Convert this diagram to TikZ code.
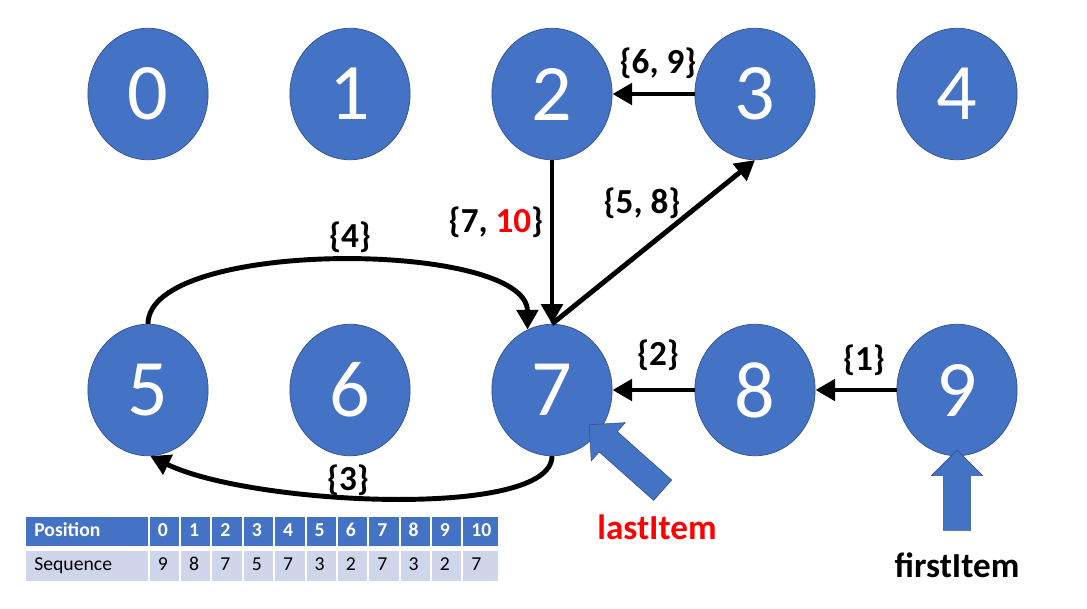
\documentclass[tikz,border=0pt]{standalone}
\usepackage{fontspec}
\setmainfont{Carlito}
\usetikzlibrary{shapes.geometric,shapes.arrows,arrows.meta}
\definecolor{nodeblue}{HTML}{4472C4}
\definecolor{nodeedge}{HTML}{2F528F}
\definecolor{rowblue}{HTML}{CFD5EA}
\tikzset{
    vertex/.style={ellipse, fill=nodeblue, draw=nodeedge, line width=0.5pt,
        minimum width=85.5pt, minimum height=93.5pt, inner sep=0pt,
        text=white, font=\fontsize{57}{60}\selectfont},
    link/.style={line width=3.5pt, -{Triangle[length=14pt,width=15pt]}},
    setlbl/.style={font=\fontsize{25}{28}\selectfont\bfseries},
    pointer/.style={single arrow, fill=nodeblue, draw=nodeedge, line width=0.4pt,
        inner sep=9.5pt, minimum width=36pt, single arrow head extend=8.5pt,
        single arrow tip angle=90, single arrow head indent=0pt},
    ptrlbl/.style={font=\fontsize{25}{28}\selectfont\bfseries},
    hdr/.style={fill=nodeblue, text=white, font=\fontsize{14}{16}\selectfont\bfseries},
    seq/.style={fill=rowblue, font=\fontsize{14}{16}\selectfont},
    wide/.style={text width=75pt},
    num/.style={text width=9.5pt},
    last/.style={text width=13.4pt}
}
\begin{document}
\begin{tikzpicture}[x=0.025cm, y=-0.025cm]
                \useasboundingbox (0,0) rectangle (1087,608);
                % vertices
                \foreach \i/\x/\y in {0/148/94, 1/350/94, 2/552/94, 3/755/94, 4/957/94,
                                      5/148/390, 6/350/390, 7/552/390, 8/755/390, 9/957/390}
                    \node[vertex] (n\i) at (\x,\y) {\i};
                % links
                \draw[link] (n3) -- (n2);
                \draw[link] (n2) -- (n7);
                \draw[link] (n7.north) -- (n3.south);
                \draw[link] (n8) -- (n7);
                \draw[link] (n9) -- (n8);
                \draw[link] (n5.north) .. controls (148,238) and (527,240) .. (n7.112);
                \draw[link] (n7.south) .. controls (552,520) and (250,505) .. (n5.-88);
                % link labels
                \node[setlbl] (l69) at (658,63) {\{6, 9\}};
                \node[setlbl] (l710) at (496,222) {\{7, \textcolor{red}{10}\}};
                \node[setlbl] (l58) at (642,203) {\{5, 8\}};
                \node[setlbl] (l4) at (350,237) {\{4\}};
                \node[setlbl] (l3) at (348,480) {\{3\}};
                \node[setlbl] (l2) at (658,355) {\{2\}};
                \node[setlbl] (l1) at (864,360) {\{1\}};
                % pointers
                \node[pointer, minimum height=57pt, rotate=90] (ptrfirst) at (957,497) {};
                \node[pointer, minimum height=70pt, rotate=138.3] (ptrlast) at (631,462) {};
                \node[ptrlbl, text=red] (lastlbl) at (657,527) {lastItem};
                \node[ptrlbl] (firstlbl) at (957,565) {firstItem};
                % table
                \matrix (tbl) [anchor=north west, inner sep=0pt, column sep=1.4pt, row sep=3.5pt,
                    nodes={inner xsep=5.7pt, inner ysep=4pt, text height=10pt, text depth=3pt, align=left}]
                    at (26,516) {
                    \node[hdr,wide] {Position}; & \node[hdr,num] {0}; & \node[hdr,num] {1}; &
                    \node[hdr,num] {2}; & \node[hdr,num] {3}; & \node[hdr,num] {4}; &
                    \node[hdr,num] {5}; & \node[hdr,num] {6}; & \node[hdr,num] {7}; &
                    \node[hdr,num] {8}; & \node[hdr,num] {9}; & \node[hdr,last] {10}; \\
                    \node[seq,wide] {Sequence}; & \node[seq,num] {9}; & \node[seq,num] {8}; &
                    \node[seq,num] {7}; & \node[seq,num] {5}; & \node[seq,num] {7}; &
                    \node[seq,num] {3}; & \node[seq,num] {2}; & \node[seq,num] {7}; &
                    \node[seq,num] {3}; & \node[seq,num] {2}; & \node[seq,last] {7}; \\
                };
            \end{tikzpicture}
\end{document}
